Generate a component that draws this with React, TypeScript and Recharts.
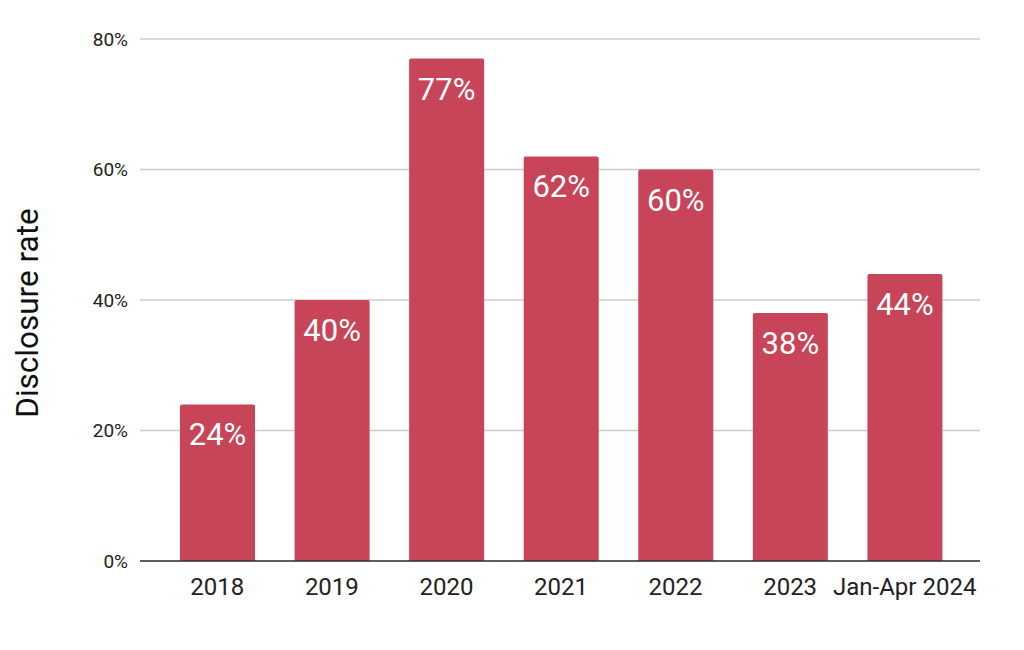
import React from 'react';
import { BarChart, Bar, XAxis, YAxis, CartesianGrid, LabelList } from 'recharts';

const categories = ['2018', '2019', '2020', '2021', '2022', '2023', 'Jan-Apr 2024'];
const disclosureRate = [24, 40, 77, 62, 60, 38, 44];
const yTicks = [0, 20, 40, 60, 80];

const data = categories.map((c, i) => ({ name: c, value: disclosureRate[i] }));

const FONT = 'Roboto, "Noto Sans", sans-serif';

const YLabel = () => (
  <text
    x={27}
    y={313}
    transform="rotate(-90, 27, 313)"
    textAnchor="middle"
    dominantBaseline="central"
    fontFamily={FONT}
    fontSize={31.5}
    fill="#111"
  >
    Disclosure rate
  </text>
);

export default function App() {
  return (
    <div style={{ position: 'absolute', left: 0, top: 0, width: 1024, height: 650, background: '#fff' }}>
      <BarChart
        width={1024}
        height={650}
        data={data}
        margin={{ top: 39, right: 44, bottom: 59, left: 0 }}
        barSize={75}
      >
        <CartesianGrid vertical={false} stroke="#cccccc" strokeWidth={1.5} />
        <XAxis
          dataKey="name"
          padding={{ left: 20, right: 18 }}
          axisLine={{ stroke: '#333', strokeWidth: 1.5 }}
          tickLine={false}
          tickMargin={11}
          tick={{ fontFamily: FONT, fontSize: 24, fill: '#222' }}
          interval={0}
        />
        <YAxis
          width={140}
          domain={[0, 80]}
          ticks={yTicks}
          tickFormatter={(v: number) => `${v}%`}
          axisLine={false}
          tickLine={false}
          tickMargin={6}
          tick={{ fontFamily: FONT, fontSize: 19, fill: '#222' }}
          label={<YLabel />}
        />
        <Bar dataKey="value" fill="#C84458" radius={[2, 2, 0, 0]} isAnimationActive={false}>
          <LabelList
            dataKey="value"
            position="insideTop"
            offset={19}
            formatter={(v: number) => `${v}%`}
            fill="#ffffff"
            fontFamily={FONT}
            fontSize={31}
          />
        </Bar>
      </BarChart>
    </div>
  );
}
